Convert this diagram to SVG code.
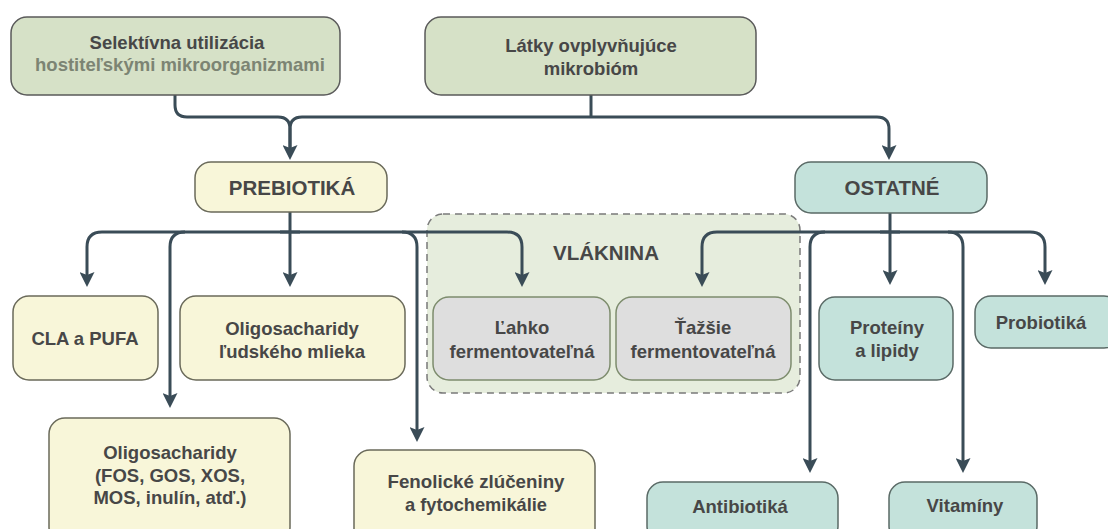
<svg xmlns="http://www.w3.org/2000/svg" width="1108" height="529" viewBox="0 0 1108 529">
<style>
.t{font-family:"Liberation Sans",Arial,sans-serif;font-weight:bold;fill:#474747;text-anchor:middle}
.s{font-size:18.5px}
.b{font-size:20.5px}
.top{fill:#d6e1c7;stroke:#5a5a5a;stroke-width:1.5}
.pre{fill:#f8f6d9;stroke:#6a6a5a;stroke-width:1.5}
.ost{fill:#c4e2db;stroke:#5a6a66;stroke-width:1.5}
.fib{fill:#dedede;stroke:#7d8c6d;stroke-width:1.5}
.con path{fill:none;stroke:#3a4c57;stroke-width:3}
</style>
<defs>
<marker id="ar" markerUnits="userSpaceOnUse" markerWidth="15" markerHeight="15" viewBox="0 0 15 15" refX="10" refY="7.5" orient="auto">
<path d="M0,0 L15,7.5 L0,15 L3,7.5 z" fill="#3a4c57"/>
</marker>
</defs>
<rect width="1108" height="529" fill="#ffffff"/>

<g id="vlaknina">
<rect x="427" y="214" width="373" height="179" rx="16" fill="#e6eddd" stroke="#7a7a7a" stroke-width="1.5" stroke-dasharray="7,5"/>
<text class="t b" x="606" y="260">VLÁKNINA</text>
</g>

<g class="con" id="connectors">
<path d="M175,95 V105 Q175,117 187,117 H278 Q290,117 290,129 V155" marker-end="url(#ar)"/>
<path d="M591,95 V117"/>
<path d="M290,150 V129 Q290,117 302,117 H877 Q889,117 889,129 V155" marker-end="url(#ar)"/>
<path d="M290,212 V282" marker-end="url(#ar)"/>
<path d="M300,232 H102 Q87,232 87,247 V282" marker-end="url(#ar)"/>
<path d="M280,232 H507 Q522,232 522,247 V282" marker-end="url(#ar)"/>
<path d="M185,232 Q170,232 170,247 V403" marker-end="url(#ar)"/>
<path d="M402,232 Q417,232 417,247 V437" marker-end="url(#ar)"/>
<path d="M890,213 V280" marker-end="url(#ar)"/>
<path d="M900,232 H717 Q702,232 702,247 V282" marker-end="url(#ar)"/>
<path d="M880,232 H1030 Q1045,232 1045,247 V280" marker-end="url(#ar)"/>
<path d="M825,232 Q810,232 810,247 V468" marker-end="url(#ar)"/>
<path d="M948,232 Q963,232 963,247 V468" marker-end="url(#ar)"/>
</g>

<g id="selektivna">
<rect class="top" x="11" y="17" width="329" height="78" rx="16"/>
<text class="t s" x="177" y="49">Selektívna utilizácia</text>
<text class="t s" x="180" y="71" style="fill:#7c8473">hostiteľskými mikroorganizmami</text>
</g>
<g id="latky">
<rect class="top" x="425" y="17" width="331" height="78" rx="16"/>
<text class="t s" x="591" y="52">Látky ovplyvňujúce</text>
<text class="t s" x="591" y="75">mikrobióm</text>
</g>
<g id="prebiotika">
<rect class="pre" x="195" y="162" width="192" height="50" rx="16"/>
<text class="t b" x="292" y="195">PREBIOTIKÁ</text>
</g>
<g id="ostatne">
<rect class="ost" x="795" y="162" width="192" height="51" rx="16"/>
<text class="t b" x="892" y="195">OSTATNÉ</text>
</g>
<g id="cla">
<rect class="pre" x="13" y="296" width="145" height="84" rx="16"/>
<text class="t s" x="85" y="345">CLA a PUFA</text>
</g>
<g id="hmo">
<rect class="pre" x="180" y="296" width="225" height="84" rx="16"/>
<text class="t s" x="292" y="335">Oligosacharidy</text>
<text class="t s" x="292" y="358">ľudského mlieka</text>
</g>
<g id="fos">
<rect class="pre" x="49" y="418" width="241" height="125" rx="16"/>
<text class="t s" x="170" y="459">Oligosacharidy</text>
<text class="t s" x="170" y="482">(FOS, GOS, XOS,</text>
<text class="t s" x="170" y="504">MOS, inulín, atď.)</text>
</g>
<g id="fenolicke">
<rect class="pre" x="354" y="450" width="241" height="95" rx="16"/>
<text class="t s" x="476" y="488" textLength="177" lengthAdjust="spacingAndGlyphs">Fenolické zlúčeniny</text>
<text class="t s" x="476" y="511" textLength="142" lengthAdjust="spacingAndGlyphs">a fytochemikálie</text>
</g>
<g id="lahko">
<rect class="fib" x="433" y="297" width="177" height="83" rx="16"/>
<text class="t s" x="522" y="334">Ľahko</text>
<text class="t s" x="522" y="358">fermentovateľná</text>
</g>
<g id="tazsie">
<rect class="fib" x="616" y="297" width="175" height="83" rx="16"/>
<text class="t s" x="703" y="334">Ťažšie</text>
<text class="t s" x="703" y="358">fermentovateľná</text>
</g>
<g id="proteiny">
<rect class="ost" x="819" y="297" width="134" height="83" rx="16"/>
<text class="t s" x="887" y="334">Proteíny</text>
<text class="t s" x="887" y="357">a lipidy</text>
</g>
<g id="probiotika">
<rect class="ost" x="975" y="296" width="145" height="52" rx="16"/>
<text class="t s" x="1041" y="329">Probiotiká</text>
</g>
<g id="antibiotika">
<rect class="ost" x="647" y="482" width="191" height="60" rx="16"/>
<text class="t s" x="740" y="513">Antibiotiká</text>
</g>
<g id="vitaminy">
<rect class="ost" x="889" y="482" width="148" height="60" rx="16"/>
<text class="t s" x="965" y="512">Vitamíny</text>
</g>
</svg>
